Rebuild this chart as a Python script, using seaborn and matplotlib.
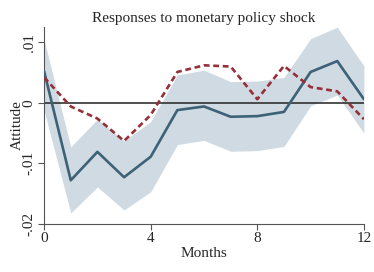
import numpy as np
import pandas as pd
import seaborn as sns
from matplotlib import pyplot as plt

# impulse responses
months = list(range(13))
resp_main = [0.0052, -0.0128, -0.0081, -0.0123, -0.0089, -0.0012, -0.0006,
             -0.0023, -0.0022, -0.0015, 0.0051, 0.0069, 0.0006]
resp_alt = [0.0042, -0.0006, -0.0026, -0.0063, -0.0020, 0.0051, 0.0062,
            0.0060, 0.0006, 0.0061, 0.0026, 0.0019, -0.0027]
band_hi = [0.0104, -0.0073, -0.0027, -0.0063, -0.0031, 0.0046, 0.0054,
           0.0035, 0.0036, 0.0042, 0.0106, 0.0125, 0.0061]
band_lo = [-0.0013, -0.0182, -0.0139, -0.0177, -0.0147, -0.0069, -0.0062,
           -0.0080, -0.0079, -0.0072, -0.0005, 0.0013, -0.0050]
xticks = [0, 4, 8, 12]
yticks = [-0.02, -0.01, 0, 0.01]
ytick_labels = ['-.02', '-.01', '0', '.01']

df = pd.DataFrame({'month': months, 'main': resp_main, 'alt': resp_alt,
                   'hi': band_hi, 'lo': band_lo})

sns.set_style('white')
plt.rcParams['font.family'] = ['Liberation Serif', 'DejaVu Serif']

fig, ax = plt.subplots(figsize=(3.74, 2.72), dpi=100)
fig.subplots_adjust(left=0.118, right=0.973, top=0.90, bottom=0.177)

ax.fill_between(df['month'], df['lo'], df['hi'], color='#d0dae2', lw=0, zorder=1)
ax.axhline(0, color='#222222', lw=1.1, zorder=2)
sns.lineplot(data=df, x='month', y='main', ax=ax, color='#3d6277', lw=1.9, zorder=3)
sns.lineplot(data=df, x='month', y='alt', ax=ax, color='#953038', lw=1.9,
             linestyle=(0, (2.2, 1.4)), zorder=4)

ax.set_xlim(0, 12)
ax.set_ylim(-0.02, 0.0125)
ax.set_xticks(xticks)
ax.set_yticks(yticks)
ax.set_yticklabels(ytick_labels, rotation=90, va='center')
ax.tick_params(axis='both', direction='out', length=4, width=0.8, color='#555555',
               labelsize=11, pad=2, left=True, bottom=True)
ax.set_xlabel('Months', fontsize=11, labelpad=1)
ax.set_ylabel('Attitude', fontsize=11, labelpad=0)
ax.yaxis.set_label_coords(-0.064, 0.5)
ax.set_title('Responses to monetary policy shock', fontsize=11, pad=4)

for side in ['top', 'right']:
    ax.spines[side].set_visible(False)
for side in ['left', 'bottom']:
    ax.spines[side].set_color('#555555')
    ax.spines[side].set_linewidth(0.8)

fig.savefig('out.png', dpi=100)
